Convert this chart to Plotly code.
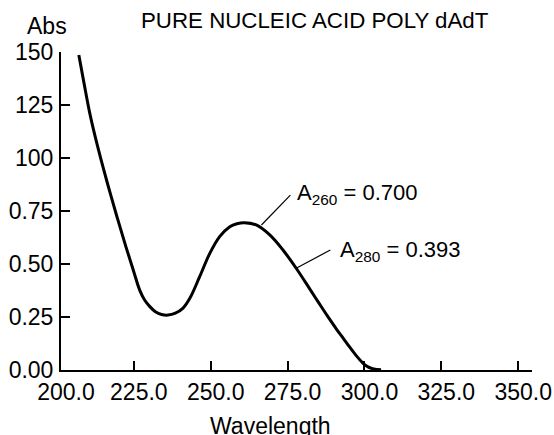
import plotly.graph_objects as go

# Data
wavelength = [207.1, 208.8, 210.9, 213.5, 216.4, 219.5, 222.4, 224.8, 226.9, 228.5,
              230.2, 232.0, 234.0, 236.1, 238.5, 241.0, 243.2, 246.4, 249.7, 252.9,
              256.2, 258.5, 261.0, 264.8, 269.2, 273.5, 277.8, 282.1, 285.0, 288.0,
              291.0, 293.0, 295.1, 297.2, 299.4, 301.0, 303.0, 305.4]
absorbance = [1.486, 1.352, 1.195, 1.038, 0.881, 0.723, 0.582, 0.472, 0.377, 0.330,
              0.299, 0.275, 0.262, 0.259, 0.268, 0.292, 0.338, 0.440, 0.550, 0.629,
              0.676, 0.690, 0.695, 0.684, 0.637, 0.566, 0.480, 0.385, 0.320, 0.254,
              0.191, 0.152, 0.110, 0.070, 0.034, 0.016, 0.005, 0.001]

x_tick_vals = [201.3, 225, 250, 275, 300, 325, 350]
x_tick_text = ["200.0", "225.0", "250.0", "275.0", "300.0", "325.0", "350.0"]
y_tick_vals = [0, 0.25, 0.5, 0.75, 1.0, 1.25, 1.5]
y_tick_text = ["0.00", "0.25", "0.50", "0.75", "100", "125", "150"]

a260_label = "A<sub>260</sub> = 0.700"
a280_label = "A<sub>280</sub> = 0.393"

FONT = "Liberation Sans, Arial, Helvetica, sans-serif"

W, H = 554, 435
L, R, T, B = 61, 22, 52, 65
pw, ph = W - L - R, H - T - B


def px(x):
    return (x - L) / pw


def py(y):
    return (H - B - y) / ph


fig = go.Figure()
fig.add_trace(go.Scatter(
    x=wavelength, y=absorbance, mode="lines",
    line=dict(color="black", width=3, shape="spline", smoothing=1.0),
    hoverinfo="skip", showlegend=False,
))

# leader lines (data coordinates)
fig.add_shape(type="line", x0=266.5, y0=0.684, x1=275.9, y1=0.825,
              line=dict(color="black", width=1.2))
fig.add_shape(type="line", x0=277.8, y0=0.480, x1=288.9, y1=0.566,
              line=dict(color="black", width=1.2))

fig.add_annotation(x=277.5, y=0.83, text=a260_label, showarrow=False,
                   xanchor="left", yanchor="middle",
                   font=dict(family=FONT, size=22, color="black"))
fig.add_annotation(x=291.3, y=0.56, text=a280_label, showarrow=False,
                   xanchor="left", yanchor="middle",
                   font=dict(family=FONT, size=22, color="black"))

# titles
fig.add_annotation(xref="paper", yref="paper", x=px(315), y=py(21),
                   text="PURE NUCLEIC ACID POLY dAdT", showarrow=False,
                   xanchor="center", yanchor="middle",
                   font=dict(family=FONT, size=22.3, color="black"))
fig.add_annotation(xref="paper", yref="paper", x=px(47), y=py(26),
                   text="Abs", showarrow=False, xanchor="center", yanchor="middle",
                   font=dict(family=FONT, size=23, color="black"))
fig.add_annotation(xref="paper", yref="paper", x=px(270), y=py(426),
                   text="Wavelength", showarrow=False, xanchor="center", yanchor="middle",
                   font=dict(family=FONT, size=23, color="black"))

fig.update_layout(
    width=W, height=H,
    margin=dict(l=L, r=R, t=T, b=B, autoexpand=False),
    paper_bgcolor="white", plot_bgcolor="white",
    font=dict(family=FONT, size=23, color="black"),
    showlegend=False,
)
fig.update_xaxes(
    range=[201.3, 354.5], tickvals=x_tick_vals, ticktext=x_tick_text,
    showline=True, linecolor="black", linewidth=2,
    ticks="inside", ticklen=9, tickwidth=1.5, tickcolor="black",
    showgrid=False, zeroline=False, ticklabelshift=5, automargin=False,
    tickfont=dict(family=FONT, size=23, color="black"),
)
fig.update_yaxes(
    range=[0, 1.5], tickvals=y_tick_vals, ticktext=y_tick_text,
    showline=True, linecolor="black", linewidth=2,
    ticks="inside", ticklen=9, tickwidth=1.5, tickcolor="black",
    showgrid=False, zeroline=False, ticklabelstandoff=1, automargin=False,
    tickfont=dict(family=FONT, size=23, color="black"),
)

fig.write_html("out.html")
